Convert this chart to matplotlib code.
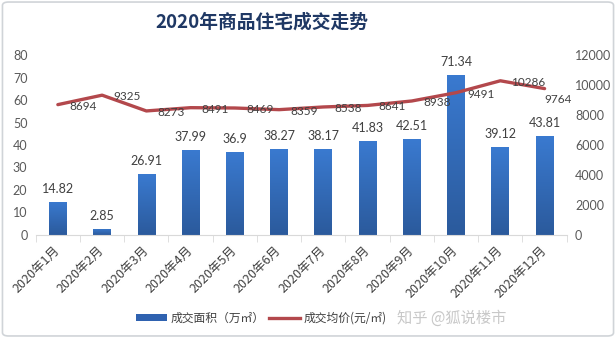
import matplotlib
matplotlib.use("Agg")
import matplotlib.pyplot as plt
import matplotlib.transforms as mtransforms
import numpy as np
from matplotlib.patches import Rectangle, FancyBboxPatch
from matplotlib.lines import Line2D
from matplotlib.colors import LinearSegmentedColormap

plt.rcParams['font.family'] = ['Noto Sans CJK SC', 'DejaVu Sans']

months = ["2020年1月", "2020年2月", "2020年3月", "2020年4月", "2020年5月", "2020年6月",
          "2020年7月", "2020年8月", "2020年9月", "2020年10月", "2020年11月", "2020年12月"]
area = [14.82, 2.85, 26.91, 37.99, 36.9, 38.27, 38.17, 41.83, 42.51, 71.34, 39.12, 43.81]
price = [8694, 9325, 8273, 8491, 8469, 8359, 8538, 8641, 8938, 9491, 10286, 9764]
area_labels = ["14.82", "2.85", "26.91", "37.99", "36.9", "38.27", "38.17", "41.83",
               "42.51", "71.34", "39.12", "43.81"]

NUM_FONT = ["Lato", "DejaVu Sans"]
LINE_RED = "#B3484C"

fig = plt.figure(figsize=(6.16, 3.38), dpi=100)
fig.patch.set_facecolor("white")
fig.patches.append(FancyBboxPatch((0.004, 0.006), 0.992, 0.988, boxstyle="round,pad=0,rounding_size=0.01",
                                  transform=fig.transFigure, fill=False, edgecolor="#D0D4D8", lw=1.2))

ax = fig.add_axes([0.058, 0.305, 0.862, 0.532])
ax2 = ax.twinx()
ax.set_zorder(1)
ax2.set_zorder(2)
ax.patch.set_visible(False)
ax2.patch.set_visible(False)

x = np.arange(len(months))
bar_w = 0.4
cmap = LinearSegmentedColormap.from_list("bar", ["#2B5A9C", "#3A7AD0"])
grad = np.linspace(0, 1, 256).reshape(-1, 1)
bars = ax.bar(x, area, width=bar_w, color="none", edgecolor="none")
for b in bars:
    x0, y0 = b.get_x(), b.get_y()
    w, h = b.get_width(), b.get_height()
    im = ax.imshow(grad, cmap=cmap, extent=[x0, x0 + w, y0, y0 + h], origin="lower",
                   aspect="auto", zorder=2)
    clip = Rectangle((x0, y0), w, h, transform=ax.transData)
    im.set_clip_path(clip)

for xi, v, s in zip(x, area, area_labels):
    ax.annotate(s, (xi, v), xytext=(0, 5), textcoords="offset points", ha="center", va="bottom",
                fontsize=9, color="#404040", family=NUM_FONT)

ax.set_xlim(-0.5, len(months) - 0.5)
ax.set_ylim(0, 80)
ax.set_yticks(range(0, 81, 10))
ax2.set_ylim(0, 12000)
ax2.set_yticks(range(0, 12001, 2000))

ax2.plot(x, price, color=LINE_RED, lw=2.4, solid_capstyle="round", solid_joinstyle="round")
for i, (xi, p) in enumerate(zip(x, price)):
    if i == len(price) - 1:
        ax2.annotate(str(p), (xi, p), xytext=(10, -8), textcoords="offset points", ha="center",
                     va="center", fontsize=8.5, color="#404040", family=NUM_FONT)
    else:
        ax2.annotate(str(p), (xi, p), xytext=(8, -1), textcoords="offset points", ha="left",
                     va="center", fontsize=8.5, color="#404040", family=NUM_FONT)

for a in (ax, ax2):
    for sp in a.spines.values():
        sp.set_visible(False)
ax.spines["bottom"].set_visible(True)
ax.spines["bottom"].set_color("#D9D9D9")

ax.set_xticks(x)
ax.set_xticklabels(months, rotation=45, ha="right", va="center", rotation_mode="anchor",
                   fontsize=9, color="#404040")
shift = mtransforms.ScaledTranslation(4 / 72, 0, fig.dpi_scale_trans)
for lab in ax.get_xticklabels():
    lab.set_transform(lab.get_transform() + shift)
ax.set_xticks(np.arange(-0.5, len(months), 1), minor=True)
ax.tick_params(axis="x", which="major", length=0, pad=10)
ax.tick_params(axis="x", which="minor", length=5, color="#D9D9D9")
ax.tick_params(axis="y", length=0, labelsize=9, labelcolor="#595959", pad=6)
ax2.tick_params(axis="y", length=0, labelsize=9, labelcolor="#595959", pad=6)
for lab in ax.get_yticklabels() + ax2.get_yticklabels():
    lab.set_family(NUM_FONT)

fig.text(0.425, 0.935, "2020年商品住宅成交走势", ha="center", va="center", fontsize=13.5,
         fontweight="bold", color="#1F3864")

handles = [Rectangle((0, 0), 1, 1, facecolor="#2F62B0"),
           Line2D([0], [0], color=LINE_RED, lw=2.4)]
fig.legend(handles, ["成交面积（万㎡）", "成交均价(元/㎡)"], loc="center", bbox_to_anchor=(0.424, 0.059),
           ncol=2, frameon=False, fontsize=8.5, labelcolor="#404040", handlelength=2.6,
           handleheight=0.6, columnspacing=0.4, handletextpad=0.3)

fig.text(0.733, 0.059, "知乎 @狐说楼市", ha="center", va="center", fontsize=11, color="#C8C8C8")

fig.savefig("out.png", dpi=100)
